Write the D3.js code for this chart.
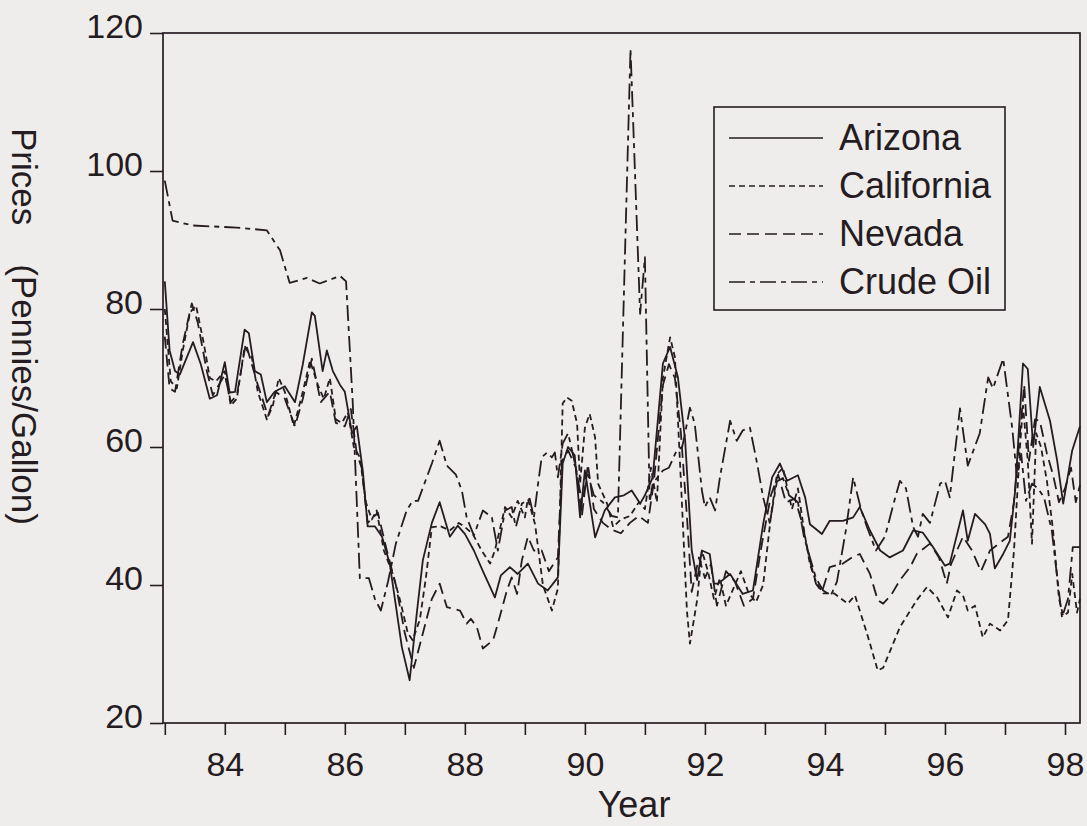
<!DOCTYPE html>
<html>
<head>
<meta charset="utf-8">
<script src="https://cdn.jsdelivr.net/npm/d3@7"></script>
<style>
  body { margin: 0; background: #efedeb; }
  text { font-family: "Liberation Sans", Arial, sans-serif; fill: #251c22; }
</style>
</head>
<body>
<svg id="chart"></svg>
<script>
// Data: [year, pennies per gallon]
const seriesNames = ["Arizona", "California", "Nevada", "Crude Oil"];

const arizona = [
  [83.00,84],[83.08,74],[83.17,71],[83.25,70.5],[83.47,75.2],[83.60,72],[83.75,67],[83.87,67.5],
  [84.00,72.3],[84.08,67.9],[84.17,68],[84.33,77],[84.40,76.5],[84.50,71],[84.60,70.5],[84.70,66.5],
  [84.83,68],[85.00,68.8],[85.17,66.5],[85.30,72],[85.45,79.5],[85.50,79],[85.63,71],[85.70,74],
  [85.80,71],[85.92,69],[86.00,68],[86.12,62],[86.20,63],[86.30,56.5],[86.38,48.5],[86.50,48.5],
  [86.62,47],[86.75,43],[86.85,37],[86.95,31],[87.08,26.2],[87.20,36],[87.30,43.6],[87.45,49],
  [87.58,52],[87.75,47],[87.88,48.6],[88.00,47.4],[88.15,45],[88.30,42],[88.50,38.2],[88.60,41.4],
  [88.75,42.6],[88.88,41.6],[89.05,43.1],[89.22,40.2],[89.38,39.2],[89.55,41.1],[89.63,57.6],[89.72,60],
  [89.83,58.8],[89.92,49.8],[90.00,56.6],[90.17,46.9],[90.33,50.8],[90.50,52.7],[90.65,53],[90.78,53.7],
  [90.92,51.8],[91.00,53],[91.13,55.6],[91.30,72.1],[91.42,74.5],[91.55,70.1],[91.67,61],[91.78,45],
  [91.87,40.7],[91.95,45],[92.08,44.5],[92.15,40.2],[92.22,40.2],[92.42,41.6],[92.63,38.7],[92.80,39.2],
  [92.97,48.8],[93.12,55.6],[93.25,57.6],[93.37,55.1],[93.55,55.9],[93.67,52.7],[93.75,48.8],[93.95,47.4],
  [94.08,49.3],[94.30,49.3],[94.47,49.8],[94.58,51.3],[94.75,47.9],[94.92,45],[95.08,44],[95.30,45],
  [95.47,47.9],[95.63,47.6],[95.80,45.5],[96.00,42.8],[96.08,43.1],[96.30,50.8],[96.38,46.4],[96.50,50.3],
  [96.67,48.8],[96.75,47.4],[96.83,42.4],[96.97,44.5],[97.08,46.4],[97.17,53.7],[97.30,72.1],[97.38,71.3],
  [97.47,60],[97.58,68.7],[97.75,63.8],[97.87,58],[97.97,51.8],[98.12,59.5],[98.25,63]
];

const california = [
  [83.00,80],[83.10,69.5],[83.20,68.5],[83.30,74],[83.42,79.5],[83.52,80.5],[83.65,75],[83.75,70],
  [83.85,69.5],[84.00,71],[84.10,66],[84.20,67],[84.33,74.5],[84.45,73],[84.55,68],[84.70,64],
  [84.80,66],[84.90,70],[85.00,68],[85.15,63],[85.30,68],[85.42,72.5],[85.55,69],[85.65,67],
  [85.75,70],[85.85,64],[85.95,63.5],[86.05,65],[86.15,60],[86.25,58.5],[86.35,52],[86.45,49.5],
  [86.53,50.8],[86.65,45],[86.80,41.6],[86.92,37.8],[87.05,33],[87.13,32],[87.25,35],[87.35,41],
  [87.45,48.4],[87.60,48.5],[87.75,47.9],[87.90,49],[88.00,48.4],[88.13,47.4],[88.28,45],[88.42,43.1],
  [88.50,45],[88.67,51.3],[88.78,49.8],[88.88,52.2],[89.00,49.8],[89.05,52.5],[89.17,48.8],[89.30,40],
  [89.45,36.3],[89.55,39.5],[89.63,66.3],[89.70,67.2],[89.78,66.7],[89.87,63.4],[89.92,54.7],[90.00,62.8],
  [90.08,64.8],[90.17,61.4],[90.22,54.7],[90.37,51.8],[90.47,48.4],[90.60,49.5],[90.75,50],[90.90,52],
  [91.00,51],[91.10,57],[91.20,52],[91.30,70],[91.42,75.9],[91.50,73],[91.60,55],[91.70,36.3],
  [91.75,31.5],[91.87,37.8],[91.95,45],[92.05,42],[92.15,38],[92.25,41],[92.35,37],[92.50,40],
  [92.60,42],[92.72,39],[92.85,37.5],[92.97,40],[93.10,50],[93.20,56],[93.30,57],[93.45,51],
  [93.55,54],[93.65,48],[93.75,43],[93.85,40.5],[93.97,38.8],[94.15,38.8],[94.38,37.3],[94.50,38.5],
  [94.70,33],[94.88,27.6],[94.97,28],[95.25,33.9],[95.53,37.8],[95.70,39.7],[95.87,38.2],[96.05,35.3],
  [96.20,39.2],[96.30,38.5],[96.38,36.3],[96.50,37],[96.63,32.4],[96.75,34.4],[96.92,33.4],[97.05,34.9],
  [97.15,45],[97.25,60],[97.30,66],[97.38,58],[97.45,46],[97.52,62],[97.60,60],[97.70,55],
  [97.80,48],[97.90,38],[97.97,35.5],[98.05,36],[98.12,41.6],[98.20,36],[98.25,38]
];

const nevada = [
  [83.00,76],[83.08,68.5],[83.17,68],[83.30,75],[83.45,80.8],[83.55,78],[83.70,71],[83.80,67.5],
  [84.00,70.5],[84.10,66.5],[84.20,67.5],[84.35,75],[84.45,72],[84.55,69],[84.72,64.5],[84.85,68],
  [85.00,67],[85.17,63],[85.30,67],[85.45,72.8],[85.60,66.5],[85.75,68],[85.85,63.5],[86.00,63],
  [86.10,65.5],[86.20,59],[86.28,57],[86.38,49],[86.55,50.5],[86.70,45],[86.85,40],[87.00,33],
  [87.15,28],[87.30,33],[87.45,38],[87.58,40.2],[87.70,36.8],[87.92,36.3],[88.03,34.4],[88.10,35.1],
  [88.20,33.9],[88.30,30.8],[88.47,32],[88.55,34.4],[88.70,39.2],[88.78,41.1],[88.87,38.7],[88.95,43.6],
  [89.05,47],[89.15,45],[89.28,45],[89.40,42],[89.55,44],[89.62,58],[89.72,59.5],[89.85,57],
  [89.95,50],[90.05,57.5],[90.15,51],[90.30,49],[90.45,48],[90.60,47.5],[90.75,49],[90.90,50],
  [91.05,49],[91.15,55],[91.30,69],[91.40,72],[91.50,70],[91.60,62],[91.70,50],[91.78,39],
  [91.90,44],[92.00,41],[92.10,43],[92.20,37],[92.35,42],[92.50,40.5],[92.65,37],[92.80,38],
  [92.95,46],[93.10,53],[93.22,56],[93.35,52],[93.50,52.5],[93.62,49],[93.75,43.5],[93.85,40.2],
  [93.95,39],[94.08,42.6],[94.30,43.1],[94.45,44],[94.58,44.5],[94.75,41.6],[94.88,37.8],[94.97,37.3],
  [95.10,38.5],[95.25,40.7],[95.42,42.6],[95.53,44.5],[95.75,46],[95.90,44],[96.03,40.2],[96.10,43],
  [96.30,47],[96.45,45],[96.60,42],[96.75,45],[96.90,46],[97.05,47],[97.15,52],[97.25,62],
  [97.32,69],[97.40,58],[97.50,64],[97.58,63.8],[97.70,59],[97.80,56],[97.90,52],[98.00,54],
  [98.10,57],[98.18,52],[98.25,54.5]
];

const crudeOil = [
  [83.00,98.6],[83.13,92.8],[83.47,92.1],[84.20,91.8],[84.70,91.4],[84.92,88.5],[85.08,83.8],[85.37,84.5],
  [85.58,83.7],[85.92,84.8],[86.02,84],[86.13,66.7],[86.20,51.8],[86.25,41],[86.40,41],[86.50,38],
  [86.60,36.3],[86.72,40.5],[86.85,46],[87.03,50.8],[87.13,52.2],[87.22,52.2],[87.45,57.6],[87.58,60.9],
  [87.70,57.3],[87.85,56],[87.95,53.7],[88.03,49.8],[88.15,47.2],[88.30,50.8],[88.45,49.8],[88.55,45],
  [88.67,50.8],[88.78,51.3],[88.85,48.4],[88.95,51.8],[89.08,52.5],[89.15,49.8],[89.22,54.7],[89.28,58.5],
  [89.37,59.2],[89.45,58.5],[89.50,59.2],[89.55,55.6],[89.63,60.5],[89.72,62],[89.85,57],[89.95,52],
  [90.05,56],[90.15,53],[90.30,52],[90.45,50],[90.55,49.8],[90.76,117.7],[90.92,79.3],[91.00,87.5],
  [91.08,52],[91.13,54.7],[91.30,56.6],[91.40,57],[91.53,59.5],[91.62,60],[91.67,62],[91.75,65.7],
  [91.83,63.4],[91.95,53.7],[92.00,51.3],[92.08,52.7],[92.17,50.8],[92.25,55.6],[92.42,63.8],[92.53,60.9],
  [92.63,62.4],[92.75,62.8],[92.87,57.6],[92.97,52.7],[93.08,49],[93.20,55],[93.30,55.5],[93.40,53],
  [93.55,52],[93.65,47],[93.75,44],[93.85,41],[93.97,39.2],[94.10,38.5],[94.20,40.5],[94.35,48],
  [94.47,55.6],[94.60,51],[94.70,48.4],[94.85,45],[95.00,47],[95.15,52],[95.25,55.1],[95.35,54],
  [95.47,48.4],[95.55,47],[95.63,50.3],[95.75,49],[95.92,54.7],[96.00,55.1],[96.08,52.7],[96.25,65.6],
  [96.38,57.3],[96.58,62],[96.72,70.1],[96.80,68.5],[96.97,72.8],[97.12,62.8],[97.20,55.6],[97.27,59],
  [97.35,52.2],[97.45,54.7],[97.55,54],[97.65,52.7],[97.78,47.9],[97.85,42.6],[97.95,35.3],[98.05,38],
  [98.13,45.5],[98.25,45.5]
];

const yearTicks = [83, 84, 85, 86, 87, 88, 89, 90, 91, 92, 93, 94, 95, 96, 97, 98];
const priceTicks = [20, 40, 60, 80, 100, 120];

// Layout
const width = 1087, height = 826;
const margin = { top: 33, right: 7, bottom: 103, left: 163 };
const ink = "#251c22";

const svg = d3.select("#chart")
    .attr("width", width)
    .attr("height", height)
    .style("background", "#efedeb");

const xScale = d3.scaleLinear()
    .domain([82.97, 98.25])
    .range([margin.left, width - margin.right]);

const yScale = d3.scaleLinear()
    .domain([20, 120])
    .range([height - margin.bottom, margin.top]);

// Axes
const xAxis = svg.append("g")
    .attr("transform", `translate(0, ${height - margin.bottom})`)
    .call(d3.axisBottom(xScale)
        .tickValues(yearTicks)
        .tickSize(12)
        .tickPadding(17)
        .tickFormat(d => d % 2 === 0 ? d : ""));

const yAxis = svg.append("g")
    .attr("transform", `translate(${margin.left}, 0)`)
    .call(d3.axisLeft(yScale)
        .tickValues(priceTicks)
        .tickSize(13)
        .tickPadding(7));

[xAxis, yAxis].forEach(g => {
    g.select(".domain").remove();
    g.selectAll(".tick line").attr("stroke", ink).attr("stroke-width", 1.6);
    g.selectAll(".tick text")
        .attr("fill", ink)
        .style("font-size", "34px")
        .style("font-family", '"Liberation Sans", Arial, sans-serif');
});
yAxis.selectAll(".tick text").attr("dy", "0.14em");

// Series lines
const dashes = ["none", "6,4", "12,6", "16,5,5,5"];
const allSeries = [arizona, california, nevada, crudeOil];

const line = d3.line()
    .x(d => xScale(d[0]))
    .y(d => yScale(d[1]));

svg.append("g")
    .selectAll("path")
    .data(allSeries)
    .enter()
    .append("path")
    .attr("d", line)
    .attr("fill", "none")
    .attr("stroke", ink)
    .attr("stroke-width", 1.8)
    .attr("stroke-linejoin", "round")
    .attr("stroke-dasharray", (d, i) => dashes[i]);

// Frame
svg.append("rect")
    .attr("x", margin.left)
    .attr("y", margin.top)
    .attr("width", width - margin.right - margin.left)
    .attr("height", height - margin.bottom - margin.top)
    .attr("fill", "none")
    .attr("stroke", ink)
    .attr("stroke-width", 1.7);

// Axis titles
svg.append("text")
    .attr("x", 634)
    .attr("y", 817)
    .attr("text-anchor", "middle")
    .style("font-size", "36px")
    .text("Year");

svg.append("text")
    .attr("transform", "translate(12, 128) rotate(90)")
    .attr("xml:space", "preserve")
    .style("white-space", "pre")
    .style("font-size", "35px")
    .text("Prices    (Pennies/Gallon)");

// Legend
const legend = svg.append("g").attr("transform", "translate(714, 107)");

legend.append("rect")
    .attr("width", 291)
    .attr("height", 203)
    .attr("fill", "#efedeb")
    .attr("stroke", ink)
    .attr("stroke-width", 1.6);

const items = legend.selectAll(".item")
    .data(seriesNames)
    .enter()
    .append("g")
    .attr("class", "item")
    .attr("transform", (d, i) => `translate(0, ${43 + i * 48})`);

items.append("line")
    .attr("x1", 15)
    .attr("x2", 109)
    .attr("y1", -12)
    .attr("y2", -12)
    .attr("stroke", ink)
    .attr("stroke-width", 1.7)
    .attr("stroke-dasharray", (d, i) => dashes[i]);

items.append("text")
    .attr("x", 125)
    .attr("y", 0)
    .style("font-size", "36px")
    .text(d => d);
</script>
</body>
</html>
